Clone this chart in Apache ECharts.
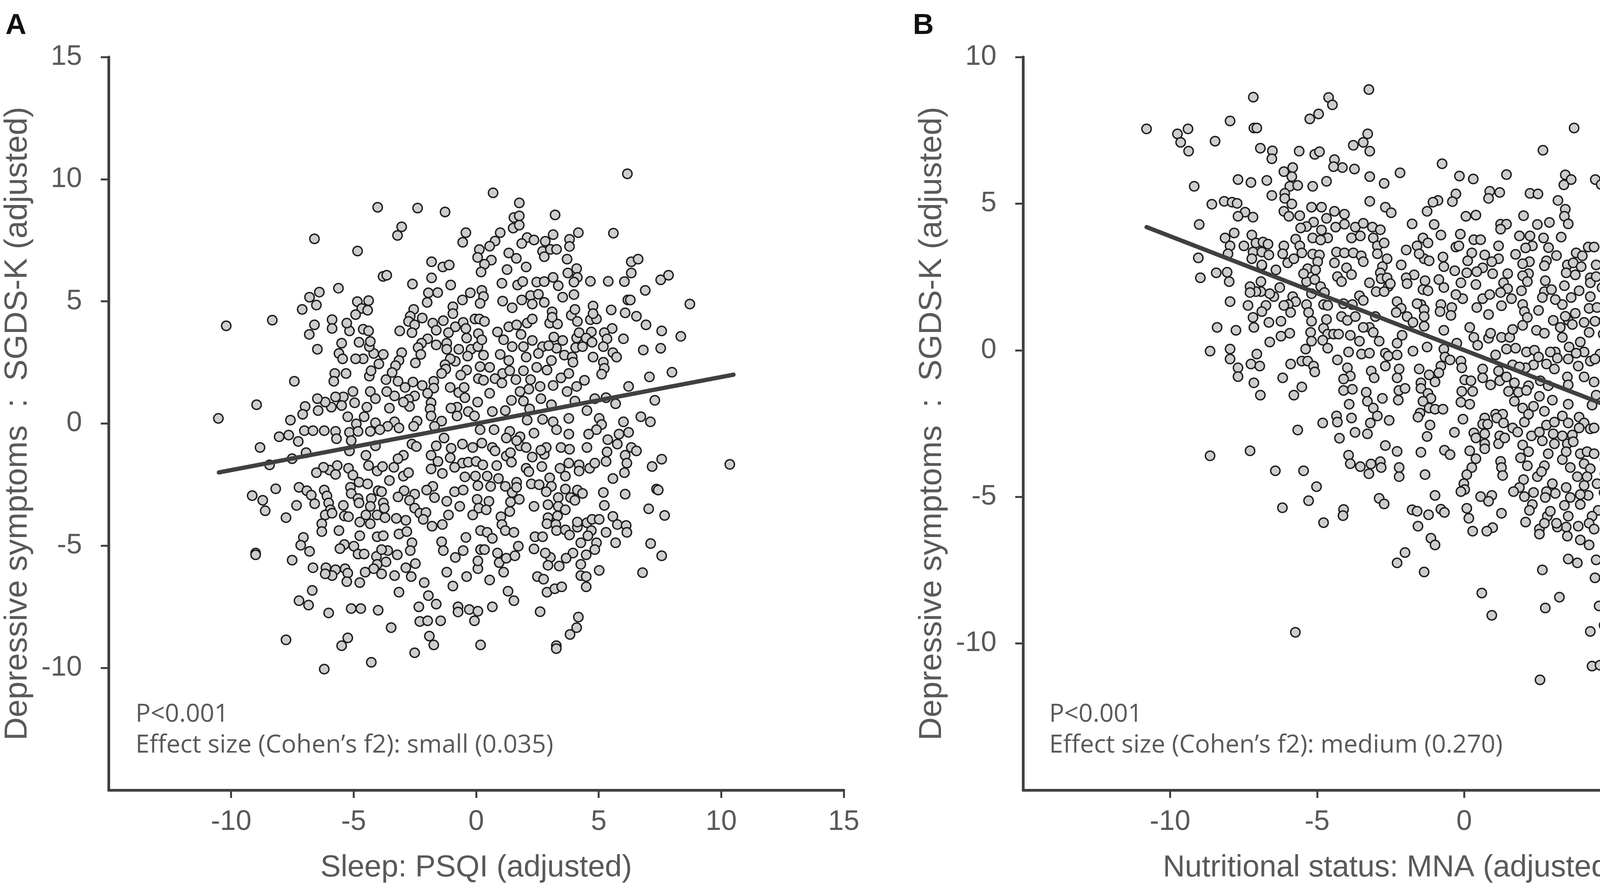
<!DOCTYPE html>
<html>
<head>
<meta charset="utf-8">
<title>Depressive symptoms vs sleep and nutritional status</title>
<script src="https://cdn.jsdelivr.net/npm/echarts@6/dist/echarts.min.js"></script>
<style>
html, body { margin: 0; padding: 0; background: #fff; }
#main { width: 4562px; height: 2266px; }
</style>
</head>
<body>
<div id="main"></div>
<script>
// panel A: Sleep PSQI (adjusted) vs SGDS-K (adjusted)
var sleepPts = [
[-4.02,8.85],[-2.39,8.82],[-1.27,8.66],[-3.04,8.05],[-3.21,7.70],[-0.42,7.81],[-0.55,7.42],[-6.60,7.56],[-4.84,7.06],
[-1.82,6.62],[-1.36,6.41],[-1.10,6.49],[-3.80,6.02],[-3.65,6.07],[-1.82,5.96],[-2.60,5.71],[-1.04,5.67],[-5.62,5.54],[-6.40,5.38],[-6.80,5.17],[-6.52,4.85],[-7.10,4.67],[-8.32,4.23],[-10.2,4.0],
[-1.95,5.35],[-1.57,5.36],[-2.0,4.96],[-0.24,5.35],[-0.56,5.06],[-0.95,4.78],[-0.95,4.50],
[-2.55,4.67],[-2.69,4.39],[-2.20,4.32],[-2.76,4.18],[-2.51,4.04],[-2.62,3.72],[-3.12,3.79],[-1.77,4.11],[-1.34,4.21],[-1.63,3.82],[-0.85,3.96],[-0.53,4.14],[-0.42,3.89],[-1.13,3.72],[-0.39,3.50],
[-1.98,3.47],[-2.23,3.29],[-2.37,3.11],[-2.26,2.83],[-1.63,3.22],[-1.20,3.29],[-1.20,3.04],[-0.71,3.04],[-0.21,3.04],[-0.35,2.76],[0.07,3.15],
[-3.04,2.90],[-3.15,2.58],[-3.29,2.37],[-2.48,2.48],[-0.85,2.55],[-1.06,2.65],[-1.27,2.41],[-1.24,2.23],[-1.41,2.05],[-0.39,2.19],[-0.63,1.98],
[-3.43,2.09],[-3.68,1.80],[-3.19,1.73],[-2.90,1.48],[-2.58,1.70],[-2.20,1.56],[-1.73,1.73],[-1.73,1.45],[-1.98,1.24],[-2.51,1.13],[-2.76,0.99],[-2.72,0.70],[-2.97,0.88],[-3.33,1.13],[-3.65,1.31],
[-1.06,1.48],[-0.71,1.27],[-0.49,1.48],[-0.46,1.06],[-0.78,0.67],[-1.03,0.63],[-0.32,0.49],[-0.78,0.31],
[-1.84,0.85],[-1.88,0.60],[-1.84,0.31],[-1.41,0.10],[-1.70,-0.11],[-2.41,0.10],[-2.55,-0.11],
[-3.54,0.63],[-3.33,0.07],[-3.15,-0.18],[-3.61,-0.11],[-4.11,0.03],[-3.93,-0.25],[-4.32,-0.32],[-4.46,0.67],[-4.57,0.28],[-4.89,-0.01],[-5.24,0.28],[-5.17,-0.36],[-4.82,-0.32],
[-4.96,0.85],[-5.03,1.31],[-4.32,1.31],[-4.11,1.02],[-5.42,1.09],[-5.49,0.74],[-5.74,1.09],[-5.91,0.67],[-6.16,0.88],[-6.48,1.02],[-6.45,0.53],[-6.98,0.70],[-7.08,0.38],[-7.58,0.14],
[-7.01,-0.29],[-6.66,-0.29],[-6.20,-0.29],[-5.74,-0.32],[-7.65,-0.47],[-8.04,-0.54],[-8.96,0.77],[-10.52,0.21],[-7.42,1.73],
[-5.77,2.05],[-5.31,2.05],[-5.81,1.73],[-4.36,1.94],[-4.29,2.16],[-3.97,2.44],[-4.18,2.87],[-3.79,2.83],[-4.36,3.15],[-4.32,3.36],[-4.78,3.33],[-4.61,2.65],[-4.92,2.65],[-5.60,2.87],[-5.45,2.65],[-5.49,3.29],[-6.48,3.04],
[-4.61,3.86],[-4.39,3.79],[-5.17,3.79],[-5.28,4.11],[-5.88,4.25],[-5.88,3.89],[-6.60,4.04],[-6.81,3.65],[-4.85,4.99],[-4.39,5.03],[-4.67,4.71],[-4.43,4.64],[-4.92,4.46],
[-0.07,0.31],
[6.17,10.22],[0.69,9.44],[1.76,9.03],[3.22,8.54],[1.54,8.43],[1.76,8.50],[1.51,8.0],[1.76,8.12],[0.98,7.81],[4.17,7.81],[5.60,7.79],[3.14,7.73],[2.08,7.61],[2.36,7.51],[1.86,7.37],[2.82,7.46],[3.81,7.54],[3.81,7.25],[0.77,7.47],[0.55,7.26],[0.13,7.12],[0.06,6.80],[0.62,6.69],[0.34,6.52],[0.20,6.20],
[2.71,7.05],[3.03,7.13],[3.28,7.13],[2.78,6.83],[1.33,6.98],[1.64,6.76],[3.71,6.73],[2.04,6.41],[1.26,6.30],[4.10,6.34],[3.74,6.16],[4.13,5.98],[3.99,5.79],[6.33,6.62],[6.61,6.73],[6.33,6.16],[6.05,5.81],[4.66,5.82],[5.39,5.82],[7.53,5.88],[7.85,6.07],[6.90,5.45],[8.72,4.89],
[1.05,5.74],[1.69,5.67],[1.90,5.81],[2.47,5.79],[2.78,5.81],[3.14,5.98],[3.35,5.64],[0.23,5.45],[0.30,5.20],[0.16,4.92],[1.08,5.01],[1.47,4.74],[1.86,5.06],[2.22,5.24],[2.54,5.29],[2.29,4.89],[2.78,4.96],[3.53,5.17],[3.99,5.28],[6.19,5.06],[6.29,5.06],[4.77,4.81],[5.51,4.65],[6.08,4.53],[6.54,4.39],[6.93,4.04],[7.57,3.79],[8.35,3.57],[6.01,3.47],[6.82,3.01],[7.53,3.08],[7.99,2.10],[7.07,1.91],[6.22,1.52],[7.29,0.95],[6.72,0.28],[7.11,0.07],[6.01,0.07],[6.22,-0.36],[5.83,-0.43],
[-0.05,4.28],[0.13,4.28],[0.34,4.18],[0.09,3.68],[0.23,3.43],[0.87,3.75],[1.12,3.43],[1.33,3.96],[1.65,4.04],[2.08,4.11],[2.29,4.28],[1.83,3.65],[1.47,3.15],[1.93,3.15],[2.29,3.40],[3.10,4.57],[3.0,4.11],[3.32,4.07],[3.10,4.35],[3.88,4.43],[4.03,4.67],[4.13,4.18],[4.66,4.25],[4.91,4.28],[4.77,4.50],[5.55,3.89],[4.70,3.75],[5.23,3.72],[5.34,3.47],[5.19,3.15],[5.58,2.90],[5.73,2.72],[4.10,3.50],[4.20,3.72],[4.49,3.50],[4.73,3.33],[3.17,3.54],[3.53,3.40],[3.28,3.08],[2.71,3.15],[2.96,3.19],[4.06,3.11],[4.34,3.15],[3.60,2.80],[3.92,2.72],[3.95,2.51],[4.77,2.72],[5.19,2.51],[5.23,2.26],[5.12,2.02],
[0.30,2.80],[0.98,2.83],[1.33,2.58],[2.04,2.72],[2.54,2.87],[3.07,2.58],[0.16,2.33],[0.55,2.30],[1.08,2.05],[1.37,2.16],[1.93,2.16],[2.47,2.30],[2.89,2.19],[3.46,1.87],[3.78,2.05],[4.42,1.77],[0.09,1.84],[0.30,1.77],[0.77,1.84],[1.05,1.66],[1.62,1.80],[2.22,1.80],[2.61,1.52],[3.14,1.56],[3.71,1.31],[4.10,1.52],[2.15,1.41],[1.79,1.31],[0.55,1.24],[0.06,0.88],[1.44,0.95],[1.93,0.92],[2.64,1.02],[3.07,0.77],[4.03,0.92],[4.84,1.02],[5.30,1.06],[5.69,0.81],[0.66,0.49],[1.19,0.53],[2.18,0.60],[4.52,0.53],[3.78,0.21],[2.71,0.17],[3.14,0.07],[2.08,0.14],[5.02,0.21],[5.12,-0.04],[4.91,-0.25],[1.37,-0.32],[1.79,-0.54],[0.16,-0.25],[0.73,-0.25],[2.36,-0.39],[3.28,-0.25],[3.78,-0.43],[4.59,-0.43],
[-7.26,-0.73],[-8.82,-0.98],[-5.70,-0.62],[-5.10,-0.70],[-6.94,-1.19],[-7.51,-1.44],[-8.43,-1.69],[-5.17,-1.12],[-4.11,-0.91],[-4.50,-1.30],[-4.39,-1.72],[-4.04,-1.94],[-3.82,-1.76],[-3.36,-1.79],[-3.54,-2.33],[-2.97,-1.30],[-3.19,-1.44],[-2.97,-2.15],[-2.76,-2.01],[-2.62,-0.84],[-2.44,-0.94],[-1.63,-0.91],[-1.31,-0.59],[-1.02,-1.01],[-0.56,-0.84],[-0.14,-0.98],[-1.84,-1.30],[-1.56,-1.55],[-1.06,-1.40],[-0.56,-1.62],[-0.32,-1.58],[0.0,-1.55],[-1.84,-1.86],[-1.38,-2.04],[-0.88,-1.79],[-0.46,-2.18],[-0.03,-2.15],[-1.77,-2.57],[-2.02,-2.72],[-0.88,-2.79],[-0.53,-2.72],[0.07,-2.54],[-1.70,-3.03],[-1.20,-3.18],[-0.67,-3.39],[0.04,-3.10],[0.11,-3.46],[-0.14,-3.74],[-1.13,-3.74],[-1.38,-4.13],[-1.80,-4.20],
[-2.94,-2.75],[-2.51,-2.89],[-2.72,-3.14],[-2.51,-3.46],[-2.30,-3.67],[-2.05,-3.64],[-2.16,-3.92],[-3.19,-3.00],
[-5.67,-1.72],[-5.99,-1.90],[-6.23,-1.79],[-6.52,-2.01],[-5.74,-2.08],[-5.21,-1.83],[-5.03,-2.11],[-4.78,-2.40],[-4.43,-2.47],[-5.13,-2.61],[-5.10,-2.86],[-4.82,-3.07],[-4.78,-3.25],[-4.28,-3.07],[-4.0,-2.75],[-3.86,-2.79],[-3.79,-3.25],[-4.32,-3.39],[-3.75,-3.46],[-4.50,-3.74],[-4.04,-3.74],[-3.72,-3.85],[-4.75,-4.03],[-4.32,-4.10],[-3.26,-3.88],[-2.87,-3.96],[-3.15,-4.52],[-2.83,-4.42],[-2.62,-4.88],[-2.69,-5.20],[-4.04,-4.63],[-3.79,-4.59],[-4.75,-4.59],[-5.38,-4.95],[-4.99,-5.02],[-5.56,-5.12],[-4.82,-5.34],[-4.57,-5.34],[-4.07,-5.44],[-3.61,-5.20],[-3.86,-5.16],[-3.22,-5.37],[-3.68,-5.66],[-4.04,-5.76],[-4.18,-5.94],[-3.86,-6.15],[-3.33,-6.22],[-4.53,-6.08],[-4.75,-6.51],[-2.87,-5.90],[-2.48,-5.73],[-2.65,-6.26],[-2.12,-6.51],[-3.15,-6.90],[-1.95,-7.04],[-1.63,-7.39],[-2.34,-7.50],[-2.30,-8.10],[-1.98,-8.07],[-1.45,-8.07],[-3.47,-8.35],[-1.91,-8.70],[-1.73,-9.06],[-2.51,-9.38],[-4.28,-9.77],[-5.24,-8.77],[-5.49,-9.09],[-6.20,-10.05],[-7.76,-8.85],[-0.74,-7.50],[-0.74,-7.71],[-0.28,-7.61],[0.07,-7.68],[-0.07,-8.07],[0.18,-9.06],[-1.20,-6.08],[-0.95,-6.65],[-0.39,-6.26],[0.07,-5.94],[0.07,-5.62],[-0.85,-5.48],[-0.53,-5.20],[-1.41,-4.84],[-1.34,-5.20],[-0.42,-4.66],[0.18,-5.16],[0.18,-4.38],
[-6.20,-2.72],[-6.09,-2.96],[-6.02,-3.25],[-5.95,-3.53],[-6.16,-3.74],[-5.88,-3.67],[-6.30,-4.10],[-6.30,-4.42],[-5.42,-3.35],[-5.38,-3.78],[-5.21,-3.81],[-5.60,-4.38],[-7.23,-2.61],[-6.91,-2.75],[-6.73,-2.93],[-6.59,-3.28],[-7.33,-3.35],[-8.18,-2.67],[-9.14,-2.95],[-8.71,-3.14],[-8.61,-3.57],[-7.76,-3.85],[-7.05,-4.66],[-7.16,-4.98],[-6.80,-5.23],[-9.0,-5.30],[-9.0,-5.37],[-7.51,-5.59],[-6.66,-5.90],[-6.13,-5.90],[-5.74,-5.98],[-5.35,-5.94],[-5.24,-6.12],[-5.88,-6.22],[-5.28,-6.47],[-6.16,-6.15],[-6.69,-6.83],[-7.23,-7.25],[-6.84,-7.43],[-6.02,-7.75],[-5.10,-7.57],[-4.71,-7.57],[-4.0,-7.64],
[1.23,-0.59],[1.79,-0.91],[2.04,-0.98],[1.65,-0.70],[0.66,-0.98],[0.23,-0.80],[0.77,-1.12],[1.23,-1.33],[1.40,-1.19],[1.44,-1.58],[2.29,-1.37],[2.78,-1.26],[2.86,-0.98],[2.64,-1.09],[3.46,-0.98],[3.81,-1.05],[4.52,-0.98],[5.37,-0.66],[5.76,-0.84],[5.34,-1.16],[5.30,-1.55],[6.08,-1.30],[6.15,-1.62],[6.05,-2.01],[6.33,-0.98],[6.54,-1.12],[7.57,-1.46],[7.18,-1.76],[10.35,-1.67],[5.58,-2.25],[7.36,-2.68],[7.43,-2.72],[6.08,-2.89],[5.19,-2.82],[5.23,-3.35],[7.04,-3.49],[7.69,-3.76],[5.58,-3.80],[5.76,-4.13],[6.12,-4.17],[6.15,-4.45],[5.30,-4.45],[5.69,-4.88],[7.12,-4.91],[7.57,-5.41],[6.79,-6.10],[5.02,-6.01],
[0.27,-1.69],[0.84,-1.72],[0.45,-2.15],[0.91,-2.25],[0.59,-2.57],[1.19,-2.57],[1.65,-2.40],[1.47,-2.82],[1.65,-2.61],[1.76,-3.10],[1.40,-3.21],[1.37,-3.60],[0.52,-3.18],[0.41,-3.53],[1.01,-3.81],[1.05,-4.13],[1.19,-4.38],[1.54,-4.45],[2.04,-1.83],[2.15,-1.97],[2.68,-1.76],[2.25,-2.47],[2.57,-2.50],[3.0,-2.22],[3.07,-2.57],[2.86,-2.79],[3.42,-1.83],[3.64,-2.15],[3.78,-1.62],[4.20,-1.69],[4.20,-1.94],[4.63,-1.83],[4.84,-1.62],[3.64,-2.68],[3.85,-3.03],[4.13,-2.72],[4.34,-2.86],[4.03,-3.14],[3.35,-3.03],[2.93,-3.32],[3.35,-3.39],[3.64,-3.53],[2.36,-3.39],[2.93,-3.85],[3.32,-3.78],[2.89,-4.10],[3.25,-4.13],[3.28,-4.38],[3.64,-4.35],[3.81,-4.56],[4.13,-4.24],[4.13,-4.03],[4.52,-4.06],[4.73,-3.92],[5.02,-3.92],[4.70,-4.38],[4.56,-4.59],[4.27,-4.88],[4.91,-4.88],[4.84,-5.16],[4.49,-5.37],[4.27,-5.76],[4.27,-6.22],[4.49,-6.26],[4.49,-6.68],[3.95,-5.30],[3.67,-5.51],[3.39,-5.83],[3.03,-5.48],[2.82,-5.30],[2.93,-5.80],[2.40,-4.63],[2.71,-4.63],[2.36,-5.13],[0.45,-4.45],[0.66,-4.70],[0.34,-5.16],[0.87,-5.30],[0.94,-5.69],[1.23,-5.51],[1.12,-6.08],[1.58,-5.41],[1.72,-5.02],[0.55,-6.40],[2.50,-6.26],[2.75,-6.37],[2.89,-6.90],[3.21,-6.76],[3.49,-6.68],[1.30,-6.86],[1.54,-7.25],[0.66,-7.50],[2.61,-7.70],[4.17,-7.92],[4.10,-8.35],[3.83,-8.63],[3.27,-9.09],[3.27,-9.21]
];

// panel B: Nutritional status MNA (adjusted) vs SGDS-K (adjusted)
var nutriPts = [
[-3.24,8.89],[-7.17,8.63],[-4.61,8.62],[-4.48,8.37],[-4.95,8.06],[-5.25,7.89],[-7.96,7.82],[-10.80,7.55],[-9.39,7.55],[-9.75,7.38],[-9.64,7.09],[-9.37,6.79],[-8.47,7.13],[-7.15,7.58],[-7.05,7.58],[-6.93,6.89],[-6.52,6.80],[-6.54,6.53],[-5.61,6.79],[-5.08,6.68],[-4.92,6.77],[-3.28,7.38],[-3.43,7.09],[-3.77,6.99],[-3.21,6.79],[-4.41,6.50],[-4.14,6.23],[-3.73,6.18],[-4.44,6.26],[-0.75,6.36],[-2.18,6.05],[-3.21,5.92],[-2.72,5.69],[-4.68,5.76],[-5.15,5.59],
[-5.83,6.23],[-6.13,6.09],[-5.86,5.92],[-5.93,5.59],[-5.66,5.62],[-6.10,5.35],[-6.10,5.18],[-5.86,4.99],[-6.13,4.74],[-5.96,4.57],[-5.59,4.59],[-6.54,5.28],[-6.71,5.79],[-7.25,5.72],[-7.69,5.82],[-9.18,5.59],[-8.58,4.98],[-8.16,5.08],[-7.89,5.05],[-7.72,5.01],[-7.45,4.71],[-7.69,4.57],[-7.18,4.54],[-9.01,4.29],
[-3.21,5.08],[-2.68,4.88],[-2.48,4.69],[-0.89,5.11],[-1.06,5.05],[-1.26,4.74],[-1.77,4.31],[-1.02,4.29],[-0.79,3.93],
[-5.19,4.88],[-4.85,4.88],[-4.41,4.74],[-4.07,4.64],[-4.68,4.50],[-5.12,4.37],[-5.36,4.22],[-5.56,4.17],[-4.07,4.30],[-4.37,4.20],[-4.85,4.10],[-4.64,3.83],[-3.70,4.20],[-3.43,4.33],[-3.12,4.20],[-2.85,4.11],[-3.83,3.83],[-3.53,3.90],[-3.09,3.83],[-2.95,3.56],[-2.72,3.66],[-5.15,3.83],[-4.88,3.76],[-5.73,3.79],[-5.59,3.56],[-6.13,3.56],[-6.17,3.29],[-6.0,2.98],[-5.79,3.12],[-5.52,3.32],[-5.15,3.28],[-4.92,3.25],[-4.98,3.02],[-4.34,3.35],[-4.07,3.32],[-3.77,3.32],[-3.50,3.22],[-3.43,3.02],[-4.41,2.98],[-4.0,2.81],[-3.83,2.58],[-4.31,2.51],[-4.17,2.34],
[-2.95,3.29],[-2.62,3.12],[-2.78,2.85],[-2.85,2.64],[-2.82,2.44],[-2.62,2.47],[-2.58,2.17],[-2.51,2.27],[-2.14,2.91],[-1.97,3.42],[-1.60,3.56],[-1.40,3.83],[-1.23,3.66],[-1.36,3.12],[-1.19,3.05],[-1.53,3.29],[-0.72,3.18],[-0.69,2.85],[-1.70,2.57],[-1.97,2.47],[-1.94,2.27],[-1.33,2.37],[-1.40,2.07],[-1.23,2.03],[-0.86,2.41],[-0.69,2.14],[-3.22,2.30],[-2.99,2.00],[-2.72,2.00],[-2.28,1.66],[-2.14,1.43],[-1.94,1.15],[-2.31,1.29],[-1.47,1.56],[-1.36,1.39],[-1.36,1.15],[-1.60,1.59],[-0.79,1.56],[-0.82,1.32],[-1.36,0.82],[-1.74,0.95],[-2.11,0.51],[-2.28,0.24],[-1.74,-0.03],[-1.26,0.11],[-0.69,0.68],[-0.69,0.04],[-0.65,-0.23],[-1.53,-0.64],[-1.19,-0.84],[-0.99,-1.08],[-1.47,-1.11],[-0.79,-0.54],[-0.86,-0.77],
[-4.10,1.59],[-3.80,1.56],[-3.56,1.86],[-3.43,1.70],[-4.17,1.15],[-3.97,1.02],[-3.70,1.15],[-3.02,1.15],[-3.22,0.78],[-3.09,0.61],[-2.89,0.31],[-3.43,0.78],[-3.87,0.51],[-3.56,0.31],[-3.93,-0.06],[-3.49,-0.13],[-3.22,-0.10],[-3.16,-0.71],[-3.06,-0.94],[-2.68,-0.10],[-2.58,-0.20],[-2.68,-0.54],[-2.28,-0.16],[-2.21,-0.64],[-2.28,-0.94],[-3.97,-0.60],[-3.87,-0.88],[-4.10,-0.98],[-4.31,-0.33],
[-4.78,1.56],[-4.64,1.53],[-4.68,1.05],[-4.78,0.75],[-4.64,0.55],[-4.44,0.55],[-4.27,0.55],[-4.81,0.34],[-4.64,0.07],[-5.36,1.56],[-5.29,1.29],[-5.19,0.99],[-5.22,0.61],[-5.19,0.31],[-5.39,0.04],[-5.83,1.83],[-5.73,1.66],[-5.98,1.56],[-5.90,1.29],[-6.13,1.53],[-5.36,2.34],[-5.08,2.41],[-4.88,2.17],[-4.75,1.97],[-5.32,2.78],[-5.46,2.61],[-5.05,2.74],[-5.19,1.93],[-6.40,2.74],[-6.27,2.14],[-6.47,1.83],[-6.61,1.93],[-6.88,2.88],[-6.91,2.34],[-6.91,2.00],[-7.08,2.00],[-7.28,2.17],[-7.28,1.97],[-6.74,1.53],[-6.88,1.32],[-7.35,1.53],[-7.18,1.12],[-7.15,0.78],[-6.64,0.95],[-6.23,0.99],[-5.93,0.58],[-6.23,0.48],[-6.61,0.28],[-7.96,1.66],[-8.40,0.78],[-7.76,0.68],[-8.64,-0.03],[-7.96,0.04],[-7.96,-0.30],[-7.69,-0.60],[-7.69,-0.90],[-7.05,-0.13],[-7.25,-0.47],[-6.95,-0.54],[-7.15,-1.11],[-6.17,-0.94],[-5.90,-0.47],[-5.52,-0.37],[-5.32,-0.37],[-5.12,-0.54],[-5.08,-0.74],[-5.52,-1.25],
[-9.04,3.15],[-8.97,2.47],[-8.43,2.64],[-8.06,2.66],[-7.99,2.34],[-8.13,3.83],[-7.82,4.00],[-7.96,3.56],[-8.03,3.29],[-7.49,3.56],[-7.22,3.93],[-7.08,3.66],[-6.84,3.69],[-6.67,3.62],[-7.18,3.35],[-7.22,3.12],[-6.88,3.35],[-6.64,3.25],[-6.88,2.91],
[3.74,7.58],[2.68,6.82],[-0.16,5.94],[0.31,5.84],[1.44,5.99],[3.44,5.98],[3.64,5.82],[3.39,5.64],[4.46,5.82],[4.66,5.65],[-0.28,5.33],[-0.40,5.07],[0.87,5.42],[0.83,5.18],[1.21,5.38],[2.24,5.35],[2.51,5.33],[3.19,5.11],[3.44,4.81],[3.41,4.57],[3.54,4.31],[8.09,4.76],[5.86,4.63],[5.79,3.95],[6.04,3.42],[4.89,3.83],[4.86,3.73],[0.06,4.57],[0.40,4.61],[2.02,4.59],[1.24,4.30],[1.44,4.30],[1.24,4.13],[2.49,4.29],[2.90,4.36],[3.30,3.86],[-0.13,3.96],[0.33,3.77],[0.56,3.77],[-0.28,3.52],[-0.18,3.56],[1.17,3.56],[1.88,3.90],[2.24,3.90],[2.70,3.83],[2.32,3.56],[2.09,3.49],[2.87,3.50],[3.14,3.23],[2.80,3.05],[2.73,2.88],[1.75,3.27],[3.81,3.32],[4.02,3.22],[4.22,3.52],[4.42,3.52],[3.51,2.91],[3.71,2.98],[3.98,2.85],[4.49,2.91],[3.47,2.64],[3.78,2.57],[4.29,2.47],[4.29,2.30],[4.49,2.51],[5.03,2.54],[5.37,2.61],[4.69,2.14],[5.29,1.93],[6.28,1.59],[5.69,1.34],[7.85,1.31],[6.92,1.13],[7.33,0.93],[5.91,0.73],[6.15,0.75],[6.78,0.63],[7.87,0.28],[7.87,-0.23],[8.01,-0.30],[6.18,-0.06],[6.38,-0.06],[6.62,0.0],[6.79,-0.23],[6.21,-0.50],[6.45,-0.67],[6.18,-0.77],[6.35,-0.98],[7.06,-0.71],[7.26,-0.67],[6.99,-0.88],[5.74,-0.91],[5.44,-1.11],[4.96,-1.01],[5.17,-1.21],
[5.33,0.28],[5.37,-0.03],[5.27,-0.44],[5.50,-0.10],[5.30,0.58],[5.23,0.85],[5.23,1.36],[4.89,0.07],[5.03,-0.13],[4.62,-0.13],[4.96,0.75],[4.73,0.55],[4.76,1.02],[4.99,1.12],[4.45,0.99],[4.25,0.61],[4.08,0.95],[4.29,1.83],[4.25,1.43],[4.52,1.46],[3.91,2.03],[3.64,1.80],[3.41,2.20],[3.34,1.56],[3.78,1.26],[3.54,1.02],[3.27,0.78],[3.03,1.02],[3.44,1.16],[3.68,0.88],[3.95,0.28],[4.08,-0.06],[3.81,-0.10],[4.29,-0.37],[4.45,-0.30],[3.57,0.11],[3.54,-0.30],[3.88,-0.54],[3.10,-0.06],[3.17,-0.27],[3.34,0.44],[2.93,-0.06],[2.80,-0.47],[3.07,-0.64],[3.51,-0.91],[4.08,-0.91],[4.42,-1.08],[3.54,-1.18],[2.73,2.00],[2.66,1.80],[2.97,2.07],[3.10,1.73],[2.76,2.37],[2.53,1.36],[2.46,0.68],[2.73,0.58],[1.99,1.56],[2.05,1.32],[2.15,1.12],[1.99,0.85],[1.95,2.03],[2.19,2.61],[2.22,3.02],[1.99,2.95],[1.99,2.54],[2.15,2.34],[1.61,1.76],[1.27,1.52],[1.48,2.61],[1.34,2.30],[1.48,2.10],[1.24,1.97],[0.97,2.61],[1.17,3.12],[0.94,3.02],[0.70,3.25],[0.63,2.81],[0.43,2.68],[0.26,3.32],[0.12,3.05],[0.09,2.64],[0.40,2.24],[0.63,1.76],[0.87,1.90],[0.43,1.46],[0.83,1.22],[-0.11,2.30],[-0.05,1.76],[-0.28,1.90],[-0.32,2.71],[-0.42,1.46],[-0.45,1.19],[0.19,0.78],[-0.25,0.24],[0.33,0.44],[0.46,0.17],[0.83,0.41],[0.90,0.58],[1.27,0.44],[1.55,0.44],[1.65,0.71],[1.44,0.04],[1.75,0.07],[2.12,-0.06],[2.39,0.0],[2.53,-0.23],[2.36,-0.50],[2.09,-0.60],[1.65,-0.50],[1.88,-0.57],[1.07,-0.16],[1.17,-0.71],[0.63,-0.64],[-0.11,-0.37],[-0.08,-0.60],[-0.48,-0.33],[0.02,-1.01],[0.23,-1.04],[0.63,-0.94],[0.90,-1.18],[1.21,-1.04],[1.44,-0.91],[1.71,-1.11],[2.19,-1.21],[2.59,-1.04],[2.86,-1.21],
[-6.93,-1.53],[-5.79,-1.53],[-4.10,-1.37],[-3.80,-1.33],[-3.33,-1.43],[-3.29,-1.74],[-3.09,-1.97],[-2.78,-1.64],[-2.95,-2.24],[-2.22,-1.37],[-2.24,-1.70],[-2.01,-1.30],[-3.91,-1.84],[-4.34,-2.24],[-4.31,-2.45],[-3.83,-2.31],[-4.81,-2.48],[-5.66,-2.72],[-3.19,-2.48],[-3.29,-2.85],[-3.71,-2.80],[-4.24,-3.00],[-2.55,-2.39],[-1.47,-1.30],[-1.23,-1.47],[-1.13,-1.64],[-1.40,-1.74],[-1.19,-1.97],[-0.99,-2.01],[-1.50,-2.14],[-1.57,-2.28],[-0.72,-2.01],[-1.16,-2.55],[-1.26,-2.94],[-2.68,-3.25],[-2.28,-3.45],[-1.47,-3.48],[-0.67,-3.41],[-3.93,-3.58],[-3.87,-3.87],[-3.53,-3.97],[-3.17,-3.88],[-2.85,-3.80],[-2.82,-4.00],[-3.24,-4.21],[-2.21,-4.00],[-2.21,-4.31],[-1.33,-4.24],[-7.28,-3.43],[-8.64,-3.60],[-6.42,-4.11],[-5.46,-4.11],[-5.02,-4.65],[-5.29,-5.13],[-6.18,-5.37],[-4.10,-5.43],[-4.12,-5.64],[-4.78,-5.88],[-2.89,-5.05],[-2.72,-5.24],[-0.99,-4.95],[-1.77,-5.44],[-1.60,-5.49],[-1.21,-5.61],[-0.79,-5.42],[-0.67,-5.53],[-1.57,-6.00],[-1.13,-6.41],[-0.99,-6.64],[-2.01,-6.90],[-2.28,-7.25],[-1.36,-7.56],[-5.74,-9.62],
[-0.08,-1.40],[0.29,-1.40],[-0.11,-1.77],[0.19,-1.84],[-0.04,-2.35],[-0.33,-2.80],[-0.48,-3.56],[0.70,-2.31],[1.07,-2.18],[1.31,-2.18],[1.11,-2.31],[0.63,-2.52],[0.80,-2.52],[0.33,-2.82],[0.40,-2.99],[0.70,-2.85],[0.70,-3.19],[0.70,-3.36],[1.34,-2.48],[1.21,-2.92],[1.17,-3.19],[1.38,-2.99],[1.65,-2.65],[1.82,-2.79],[0.19,-3.43],[0.40,-3.70],[0.26,-4.00],[0.09,-4.24],[-0.01,-4.55],[0.02,-4.75],[-0.11,-4.82],[1.24,-3.79],[1.27,-4.00],[1.31,-4.27],[0.56,-4.99],[0.94,-4.95],[0.83,-5.15],[0.09,-5.39],[0.16,-5.73],[0.29,-6.17],[0.97,-6.05],[0.77,-6.17],[1.27,-5.56],[0.60,-8.28],[0.94,-9.04],
[1.51,-1.40],[1.71,-1.74],[1.85,-1.43],[2.12,-1.37],[1.99,-1.97],[2.05,-2.45],[2.36,-1.91],[2.19,-2.18],[2.56,-1.57],[3.0,-1.70],[2.73,-2.08],[2.29,-2.92],[2.56,-2.79],[1.99,-3.23],[2.19,-3.46],[2.15,-3.94],[1.92,-3.67],[2.66,-3.09],[2.80,-2.55],[3.07,-2.45],[3.03,-2.85],[3.07,-3.19],[2.86,-3.53],[2.73,-3.94],[2.49,-4.31],[2.63,-4.14],[3.34,-2.24],[3.54,-1.84],[3.54,-2.48],[3.34,-2.92],[3.51,-3.19],[3.91,-2.28],[4.08,-2.48],[3.91,-2.65],[4.29,-2.68],[4.42,-2.65],[3.68,-2.89],[3.71,-3.12],[3.34,-3.73],[3.61,-4.0],[3.47,-3.46],[3.95,-3.53],[4.18,-3.46],[4.42,-3.53],[4.08,-3.87],[4.29,-4.04],[3.85,-4.31],[4.18,-4.31],[4.08,-4.61],[4.22,-4.95],[3.95,-4.92],[3.95,-5.26],[3.61,-5.02],[3.47,-4.68],[4.83,-2.85],[4.93,-3.19],[4.89,-2.21],[4.49,-1.53],[4.35,-1.87],[5.27,-2.41],[5.33,-1.37],[5.71,-1.74],[5.91,-1.43],[6.28,-1.30],[6.79,-1.40],[6.69,-1.77],[6.79,-2.48],[6.35,-2.08],[6.08,-2.21],[5.23,-2.68],[5.60,-2.85],[5.74,-3.02],[6.45,-2.79],[6.38,-3.06],[6.59,-3.19],[6.28,-3.40],[7.40,-3.25],[8.36,-2.53],[5.33,-3.43],[5.10,-3.70],[4.79,-3.73],[5.67,-3.80],[5.98,-3.83],[5.64,-4.14],[5.88,-4.34],[6.04,-4.44],[5.50,-3.87],[4.79,-4.21],[4.52,-4.55],[4.76,-4.85],[5.13,-4.61],[5.03,-5.02],[5.27,-5.02],[5.54,-5.15],[5.98,-5.22],[6.11,-5.75],[4.56,-5.46],[4.83,-5.43],[5.13,-5.56],[4.35,-5.66],[4.25,-5.90],[4.42,-6.10],[5.40,-5.87],[5.50,-6.0],[5.13,-6.24],[5.44,-6.44],[3.95,-6.47],[4.25,-6.64],[3.88,-6.0],[3.47,-6.03],[3.51,-6.34],[3.17,-6.03],[3.14,-5.90],[3.54,-5.66],[3.41,-5.29],[3.10,-4.88],[3.0,-4.55],[2.80,-4.82],[2.76,-5.02],[2.83,-5.66],[2.93,-5.49],[2.36,-4.85],[2.32,-5.26],[2.22,-5.46],[2.09,-5.86],[2.56,-6.10],[2.56,-6.27],[2.73,-5.90],[2.05,-4.99],[2.02,-4.41],[1.88,-4.68],[1.68,-4.82],[3.54,-7.12],[3.85,-7.25],[4.49,-7.15],[4.89,-7.02],[5.20,-7.42],[5.50,-7.39],[4.45,-7.76],[2.66,-7.49],[3.24,-8.42],[2.76,-8.79],[4.59,-8.72],[5.11,-8.38],[6.25,-8.74],[6.18,-9.28],[4.76,-9.38],[4.29,-9.59],[4.35,-10.77],[4.62,-10.74],[4.93,-11.12],[2.58,-11.24],[7.50,-10.40],[6.75,-6.95],[7.74,-6.91],[7.53,-7.39],[7.47,-7.66],[7.26,-7.76],[7.43,-8.10],[8.07,-4.14],[7.16,-4.51],[8.14,-4.75],[7.97,-5.63],[8.41,-6.43]
];

// fitted regression lines (end points)
var sleepFit = [[-10.5, -2.0], [10.5, 2.0]];
var nutriFit = [[-10.8, 4.2], [8.5, -3.3]];

// axis ranges and ticks
var sleepXRange = [-15, 15];
var sleepYRange = [-15, 15];
var nutriXRange = [-15, 10];
var nutriYRange = [-15, 10];
var sleepYTicks = [-10, -5, 0, 5, 10, 15];
var nutriYTicks = [-10, -5, 0, 5, 10];

var noteA = ['P<0.001', 'Effect size (Cohen\u2019s f2): small (0.035)'];
var noteB = ['P<0.001', 'Effect size (Cohen\u2019s f2): medium (0.270)'];

var AXIS_COLOR = '#404040';
var TEXT_COLOR = '#595959';
var AXIS_FONT = '"Liberation Sans", Arial, sans-serif';

function makeX(gi, range, name) {
    return {
        gridIndex: gi, type: 'value', min: range[0], max: range[1], interval: 5,
        splitLine: { show: false },
        axisLine: { onZero: false, lineStyle: { color: AXIS_COLOR, width: 7 } },
        axisTick: { length: 20, lineStyle: { color: AXIS_COLOR, width: 5 } },
        axisLabel: { showMinLabel: false, fontSize: 72, color: TEXT_COLOR, fontFamily: AXIS_FONT, margin: 46 },
        name: name, nameLocation: 'middle', nameGap: 160,
        nameTextStyle: { fontSize: 78, color: TEXT_COLOR, fontFamily: AXIS_FONT }
    };
}

function makeY(gi, range, ticks, name) {
    return {
        gridIndex: gi, type: 'value', min: range[0], max: range[1], interval: 5,
        splitLine: { show: false },
        axisLine: { onZero: false, lineStyle: { color: AXIS_COLOR, width: 7 } },
        axisTick: { length: 20, customValues: ticks, lineStyle: { color: AXIS_COLOR, width: 5 } },
        axisLabel: { showMinLabel: false, fontSize: 72, color: TEXT_COLOR, fontFamily: AXIS_FONT, margin: 68 },
        name: name, nameLocation: 'middle', nameGap: 192,
        nameTextStyle: { fontSize: 82, color: TEXT_COLOR, fontFamily: AXIS_FONT }
    };
}

function dots(gi, data) {
    return {
        type: 'scatter', xAxisIndex: gi, yAxisIndex: gi, data: data,
        symbolSize: 24, z: 2,
        itemStyle: { color: '#cdcdcd', borderColor: '#1e1e1e', borderWidth: 3.5, opacity: 1 }
    };
}

function fit(gi, data) {
    return {
        type: 'line', xAxisIndex: gi, yAxisIndex: gi, data: data,
        symbol: 'none', z: 3,
        lineStyle: { color: AXIS_COLOR, width: 11, cap: 'round' }
    };
}

var myChart = echarts.init(document.getElementById('main'));
var option = {
    backgroundColor: '#ffffff',
    animation: false,
    grid: [
        { left: 278, top: 146, width: 1882, height: 1880 },
        { left: 2619, top: 146, width: 1882, height: 1880 }
    ],
    xAxis: [
        makeX(0, sleepXRange, 'Sleep: PSQI (adjusted)'),
        makeX(1, nutriXRange, 'Nutritional status: MNA (adjusted)')
    ],
    yAxis: [
        makeY(0, sleepYRange, sleepYTicks, 'Depressive symptoms  :  SGDS-K (adjusted)'),
        makeY(1, nutriYRange, nutriYTicks, 'Depressive symptoms  :  SGDS-K (adjusted)')
    ],
    graphic: [
        { type: 'text', left: 14, top: 30, style: { text: 'A', font: 'bold 74px "Liberation Sans", Arial', fill: '#111' } },
        { type: 'text', left: 2337, top: 30, style: { text: 'B', font: 'bold 74px "Liberation Sans", Arial', fill: '#111' } },
        { type: 'text', left: 347, top: 1790, style: { text: noteA.join('\n'), font: '64px "Open Sans", sans-serif', fill: TEXT_COLOR, lineHeight: 79 } },
        { type: 'text', left: 2686, top: 1790, style: { text: noteB.join('\n'), font: '64px "Open Sans", sans-serif', fill: TEXT_COLOR, lineHeight: 79 } }
    ],
    series: [
        dots(0, sleepPts), fit(0, sleepFit),
        dots(1, nutriPts), fit(1, nutriFit)
    ]
};
myChart.setOption(option);
</script>
</body>
</html>
